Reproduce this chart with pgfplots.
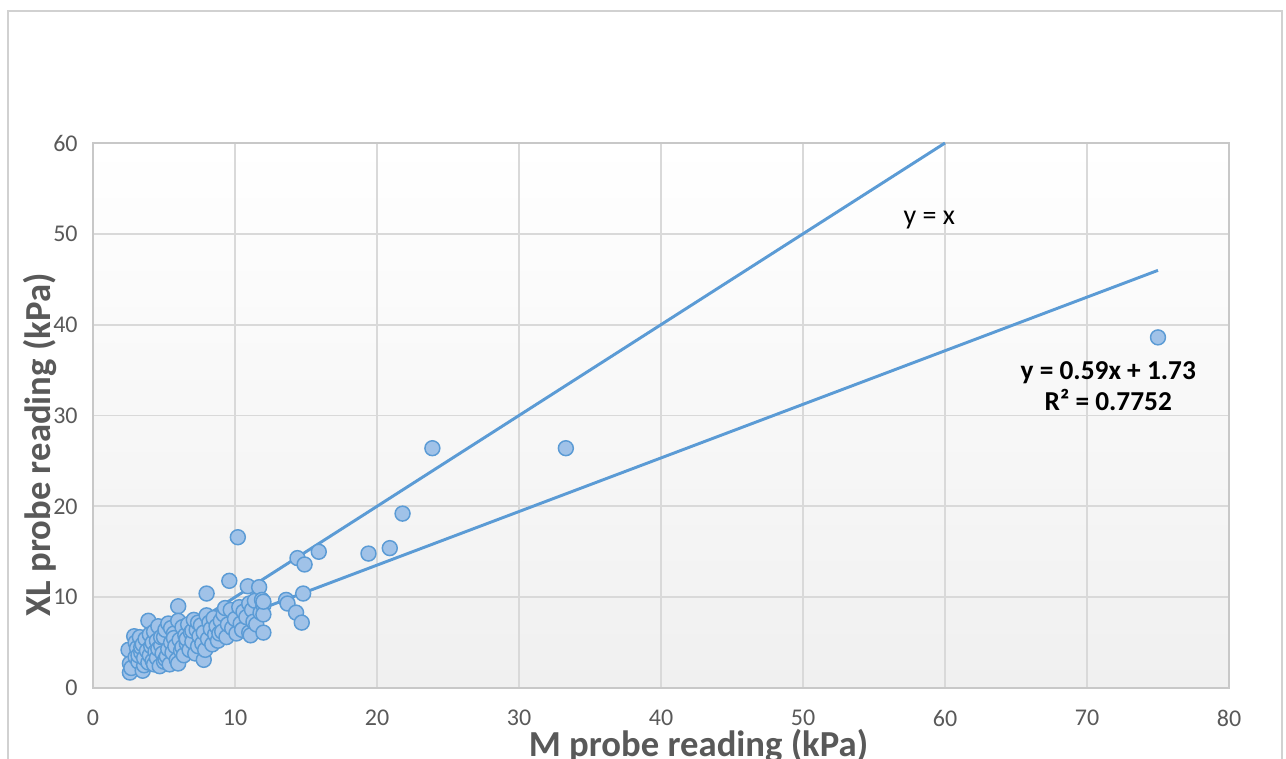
\documentclass[border=0pt]{standalone}
\usepackage{pgfplots}
\pgfplotsset{compat=1.18}
\usepackage{pgfplotstable}
\usepackage{fontspec}
\setmainfont{Carlito}
\definecolor{xlblue}{HTML}{5B9BD5}
\definecolor{xlfill}{HTML}{A0C2E8}
\definecolor{tickgray}{HTML}{595959}
\definecolor{gridgray}{HTML}{D9D9D9}
\definecolor{framegray}{HTML}{C8C8C8}
\definecolor{bggray}{HTML}{F0F0F0}

\pgfplotstableread{
x y
2.5 4.2
2.6 1.7
2.6 2.7
2.7 2.2
2.9 5.7
3.0 3.4
3.0 5.0
3.1 4.4
3.2 2.9
3.2 3.6
3.3 5.6
3.4 3.9
3.4 4.5
3.5 1.9
3.5 4.8
3.6 2.5
3.6 3.3
3.7 5.4
3.8 4.1
3.9 7.4
3.9 2.8
4.0 3.6
4.0 5.9
4.1 4.6
4.2 3.0
4.2 5.0
4.3 6.2
4.3 2.6
4.4 4.0
4.5 5.2
4.5 3.3
4.6 6.8
4.6 4.3
4.7 2.4
4.8 4.7
4.8 5.6
4.9 3.8
5.0 5.6
5.0 2.9
5.1 6.4
5.1 3.2
5.2 3.5
5.3 4.3
5.3 7.1
5.4 2.6
5.5 5.0
5.5 6.6
5.6 3.9
5.7 6.0
5.7 5.5
5.8 4.6
5.9 3.1
6.0 9.0
6.0 7.4
6.0 2.7
6.1 5.3
6.2 4.1
6.3 6.7
6.3 4.5
6.4 3.6
6.5 5.8
6.6 4.9
6.6 5.4
6.7 7.0
6.8 4.2
6.9 6.1
7.0 5.1
7.0 6.3
7.1 7.5
7.2 3.8
7.3 6.4
7.4 4.6
7.4 7.2
7.5 5.7
7.6 6.9
7.7 4.9
7.8 3.1
7.8 6.1
7.9 4.2
8.0 10.4
8.0 8.0
8.1 5.4
8.2 7.2
8.3 6.5
8.4 4.8
8.5 7.7
8.6 5.9
8.7 6.8
8.8 5.2
8.9 6.0
9.0 7.4
9.1 6.2
9.2 8.1
9.3 8.8
9.4 5.6
9.5 7.0
9.6 11.8
9.7 8.6
9.8 6.6
10.0 7.6
10.1 6.0
10.2 16.6
10.3 8.9
10.4 7.1
10.5 6.4
10.6 8.4
10.8 7.8
10.9 11.2
11.0 6.1
11.0 9.3
11.1 5.8
11.2 8.6
11.3 7.3
11.4 9.6
11.5 7.0
11.7 11.1
11.8 8.3
11.9 9.7
12.0 9.1
12.0 8.1
12.0 6.1
12.0 9.5
13.6 9.7
13.7 9.3
14.3 8.3
14.4 14.3
14.7 7.2
14.8 10.4
14.9 13.6
15.9 15.0
19.4 14.8
20.9 15.4
21.8 19.2
23.9 26.4
33.3 26.4
75.0 38.6
}\pointdata

\begin{document}
\begin{tikzpicture}[x=0.75pt,y=0.75pt]
\useasboundingbox (0,0) rectangle (1286,758);
\draw[black!18, line width=1.2pt] (8,-20) rectangle (1282,747);
\begin{axis}[
  at={(69.75pt,52.5pt)}, anchor=south west,
  scale only axis, width=852pt, height=408.75pt,
  xmin=0, xmax=80, ymin=0, ymax=60,
  xtick={0,10,...,80}, ytick={0,10,...,60},
  major tick length=0pt,
  grid=major,
  major grid style={gridgray, line width=1.4pt},
  axis line style={framegray, line width=1.6pt},
  axis background/.style={top color=white, bottom color=bggray},
  tick label style={font=\fontsize{18}{20}\selectfont, text=tickgray},
  /pgf/number format/assume math mode=true,
  xticklabel style={yshift=-13pt},
  yticklabel style={xshift=-8pt},
  xlabel={M probe reading (kPa)},
  ylabel={XL probe reading (kPa)},
  label style={font=\fontsize{27.5}{30}\selectfont\bfseries, text=tickgray},
  xlabel style={at={(axis description cs:0.533,-0.106)}, anchor=center},
  ylabel style={at={(axis description cs:-0.047,0.446)}, anchor=center},
  clip=false,
]
\addplot[only marks, mark=*, mark size=5.6pt,
  mark options={fill=xlfill, draw=xlblue, line width=1.1pt}]
  table[x=x,y=y] {\pointdata};
\addplot[xlblue, line width=2.2pt] coordinates {(2.5,2.5) (60,60)};
\addplot[xlblue, line width=2.2pt] coordinates {(2.5,3.20) (75,45.98)};
\node[font=\fontsize{21}{24}\selectfont, anchor=center] at (axis cs:58.9,51.5) {y = x};
\node[font=\fontsize{20.5}{24}\selectfont\bfseries, anchor=center, align=center] at (axis cs:71.5,33.2) {y = 0.59x + 1.73\\[-1pt] R² = 0.7752};
\end{axis}
\end{tikzpicture}
\end{document}
